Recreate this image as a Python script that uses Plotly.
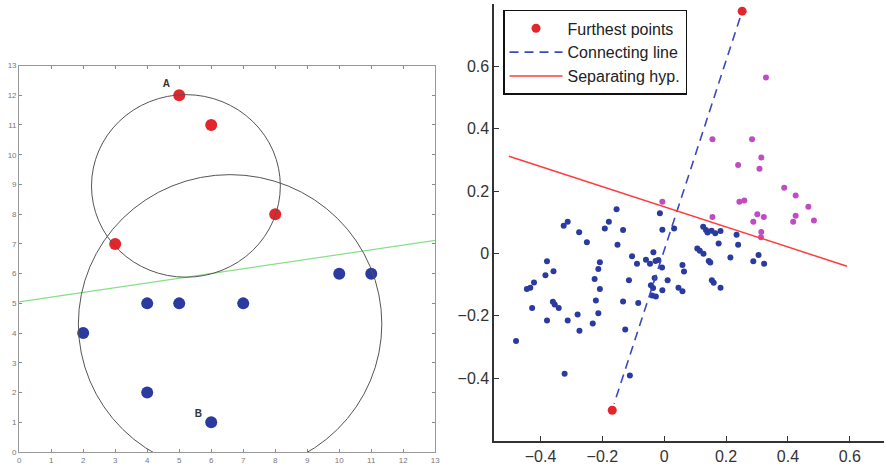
import plotly.graph_objects as go

# ---------------- Left panel data ----------------
left_red_x = [5, 6, 8, 3]
left_red_y = [12, 11, 8, 7]
left_blue_x = [2, 4, 5, 7, 10, 11, 4, 6]
left_blue_y = [4, 5, 5, 5, 6, 6, 2, 1]
left_line_x = [0, 13]
left_line_y = [5.05, 7.12]
circle_small = dict(cx=5.21, cy=8.95, rx=2.95, ry=3.07)
circle_big = dict(cx=6.59, cy=4.31, rx=4.74, ry=5.02)
left_label_text = ["A", "B"]
left_label_x = [4.6, 5.6]
left_label_y = [12.35, 1.25]
left_ticks = list(range(0, 14))

# ---------------- Right panel data ----------------
blue_x = [-0.479, -0.444, -0.433, -0.421, -0.427, -0.379, -0.384, -0.358, -0.360, -0.354,
          -0.341, -0.379, -0.312, -0.325, -0.312, -0.275, -0.250, -0.280, -0.274, -0.231,
          -0.322, -0.192, -0.179, -0.154, -0.133, -0.151, -0.208, -0.213, -0.225, -0.208,
          -0.221, -0.213, -0.126, -0.133, -0.084, -0.114, -0.111, -0.104, -0.088, -0.059,
          -0.046, -0.035, -0.028, -0.019, -0.007, -0.031, -0.043, -0.036, -0.039, -0.027,
          -0.006, 0.011, 0.046, 0.059, 0.059, 0.064, -0.014, -0.006, 0.032, 0.126,
          0.135, 0.140, 0.153, 0.165, 0.182, 0.176, 0.107, 0.115, 0.127, 0.144,
          0.149, 0.154, 0.160, 0.182, 0.214, 0.234, 0.239, 0.288, 0.305, 0.323]
blue_y = [-0.281, -0.114, -0.110, -0.093, -0.175, -0.025, -0.070, -0.057, -0.155, -0.164,
          -0.175, -0.215, -0.215, 0.089, 0.102, 0.068, 0.036, -0.196, -0.248, -0.225,
          -0.386, 0.080, 0.102, 0.142, 0.075, 0.028, -0.028, -0.050, -0.082, -0.114,
          -0.151, -0.192, -0.244, -0.154, -0.159, -0.086, -0.391, -0.009, -0.033, -0.020,
          -0.033, 0.004, -0.024, -0.021, -0.045, -0.079, -0.102, -0.111, -0.135, -0.138,
          -0.118, -0.086, -0.110, -0.121, -0.037, -0.058, 0.129, 0.076, 0.080, 0.086,
          0.075, 0.067, 0.073, 0.065, 0.072, 0.032, 0.016, 0.009, -0.001, -0.024,
          -0.029, -0.086, -0.094, -0.110, -0.013, 0.060, 0.028, -0.025, -0.005, -0.033]
magenta_x = [-0.006, 0.156, 0.156, 0.284, 0.329, 0.314, 0.239, 0.308, 0.388, 0.425,
             0.466, 0.243, 0.259, 0.301, 0.322, 0.288, 0.425, 0.417, 0.484, 0.314, 0.313]
magenta_y = [0.166, 0.117, 0.366, 0.366, 0.564, 0.308, 0.284, 0.272, 0.211, 0.186,
             0.150, 0.166, 0.170, 0.126, 0.117, 0.102, 0.121, 0.102, 0.106, 0.069, 0.052]
far_x = [0.252, -0.168]
far_y = [0.777, -0.503]
connect_x = [0.245, -0.162]
connect_y = [0.755, -0.482]
sep_x = [-0.502, 0.591]
sep_y = [0.312, -0.041]
right_ticks = [-0.4, -0.2, 0, 0.2, 0.4, 0.6]

BLUE = "#2a3aa0"
RED = "#e3262b"
MAG = "#c04cc4"
FONT = "Liberation Sans, Arial, sans-serif"

fig = go.Figure()

# Left panel
fig.add_trace(go.Scatter(x=left_line_x, y=left_line_y, mode="lines",
                         line=dict(color="#86e086", width=1.2),
                         xaxis="x", yaxis="y", showlegend=False, hoverinfo="skip"))
fig.add_trace(go.Scatter(x=left_red_x, y=left_red_y, mode="markers",
                         marker=dict(color=RED, size=12),
                         xaxis="x", yaxis="y", showlegend=False))
fig.add_trace(go.Scatter(x=left_blue_x, y=left_blue_y, mode="markers",
                         marker=dict(color=BLUE, size=12),
                         xaxis="x", yaxis="y", showlegend=False))
fig.add_trace(go.Scatter(x=left_label_x, y=left_label_y, mode="text",
                         text=[f"<b>{t}</b>" for t in left_label_text],
                         textfont=dict(size=10, color="#333", family=FONT),
                         xaxis="x", yaxis="y", showlegend=False))

for c in (circle_small, circle_big):
    fig.add_shape(type="circle", xref="x", yref="y",
                  x0=c["cx"] - c["rx"], x1=c["cx"] + c["rx"],
                  y0=c["cy"] - c["ry"], y1=c["cy"] + c["ry"],
                  line=dict(color="#555", width=1))

# Right panel
fig.add_trace(go.Scatter(x=blue_x, y=blue_y, mode="markers",
                         marker=dict(color=BLUE, size=6),
                         xaxis="x2", yaxis="y2", showlegend=False))
fig.add_trace(go.Scatter(x=magenta_x, y=magenta_y, mode="markers",
                         marker=dict(color=MAG, size=6),
                         xaxis="x2", yaxis="y2", showlegend=False))
fig.add_trace(go.Scatter(x=connect_x, y=connect_y, mode="lines", name="Connecting line",
                         line=dict(color="#3c48c0", width=1.6, dash="9px,6px"),
                         xaxis="x2", yaxis="y2", legendrank=2))
fig.add_trace(go.Scatter(x=sep_x, y=sep_y, mode="lines", name="Separating hyp.",
                         line=dict(color="#ff3b3b", width=1.5),
                         xaxis="x2", yaxis="y2", legendrank=3))
fig.add_trace(go.Scatter(x=far_x, y=far_y, mode="markers", name="Furthest points",
                         marker=dict(color=RED, size=9),
                         xaxis="x2", yaxis="y2", legendrank=1))

W, H = 889, 474
left_ax = dict(range=[0, 13], tickvals=left_ticks, ticks="inside", ticklen=3,
               tickcolor="#888", showline=True, linecolor="#999", linewidth=1,
               mirror="ticks", showgrid=False, zeroline=False,
               tickfont=dict(size=8, color="#777", family=FONT))
fig.update_layout(
    width=W, height=H, margin=dict(l=0, r=0, t=0, b=0),
    paper_bgcolor="white", plot_bgcolor="white",
    xaxis=dict(left_ax, domain=[17.3 / W, 436.7 / W], anchor="y"),
    yaxis=dict(left_ax, domain=[1 - 456.7 / H, 1 - 62.7 / H], anchor="x"),
    xaxis2=dict(domain=[496 / W, 1.0], range=[-0.55, 0.7106], anchor="y2",
                tickvals=right_ticks, ticks="inside", ticklen=5, tickcolor="#333",
                showline=True, linecolor="#333", linewidth=1.5, showgrid=False,
                zeroline=False, tickfont=dict(size=16, color="#333", family=FONT)),
    yaxis2=dict(domain=[1 - 445 / H, 1.0], range=[-0.6, 0.8], anchor="x2",
                tickvals=right_ticks, ticks="inside", ticklen=5, tickcolor="#333",
                showline=True, linecolor="#333", linewidth=1.5, showgrid=False,
                zeroline=False, tickfont=dict(size=16, color="#333", family=FONT)),
    legend=dict(x=505 / W, y=1 - 6 / H, xanchor="left", yanchor="top",
                bgcolor="white", bordercolor="#111", borderwidth=1.5,
                font=dict(size=16, color="#222", family=FONT),
                itemwidth=53, tracegroupgap=0),
    font=dict(family=FONT),
)

fig.write_html("out.html", config={"responsive": False, "displayModeBar": False},
               post_script="document.body.style.margin='0';document.body.style.padding='0';")
